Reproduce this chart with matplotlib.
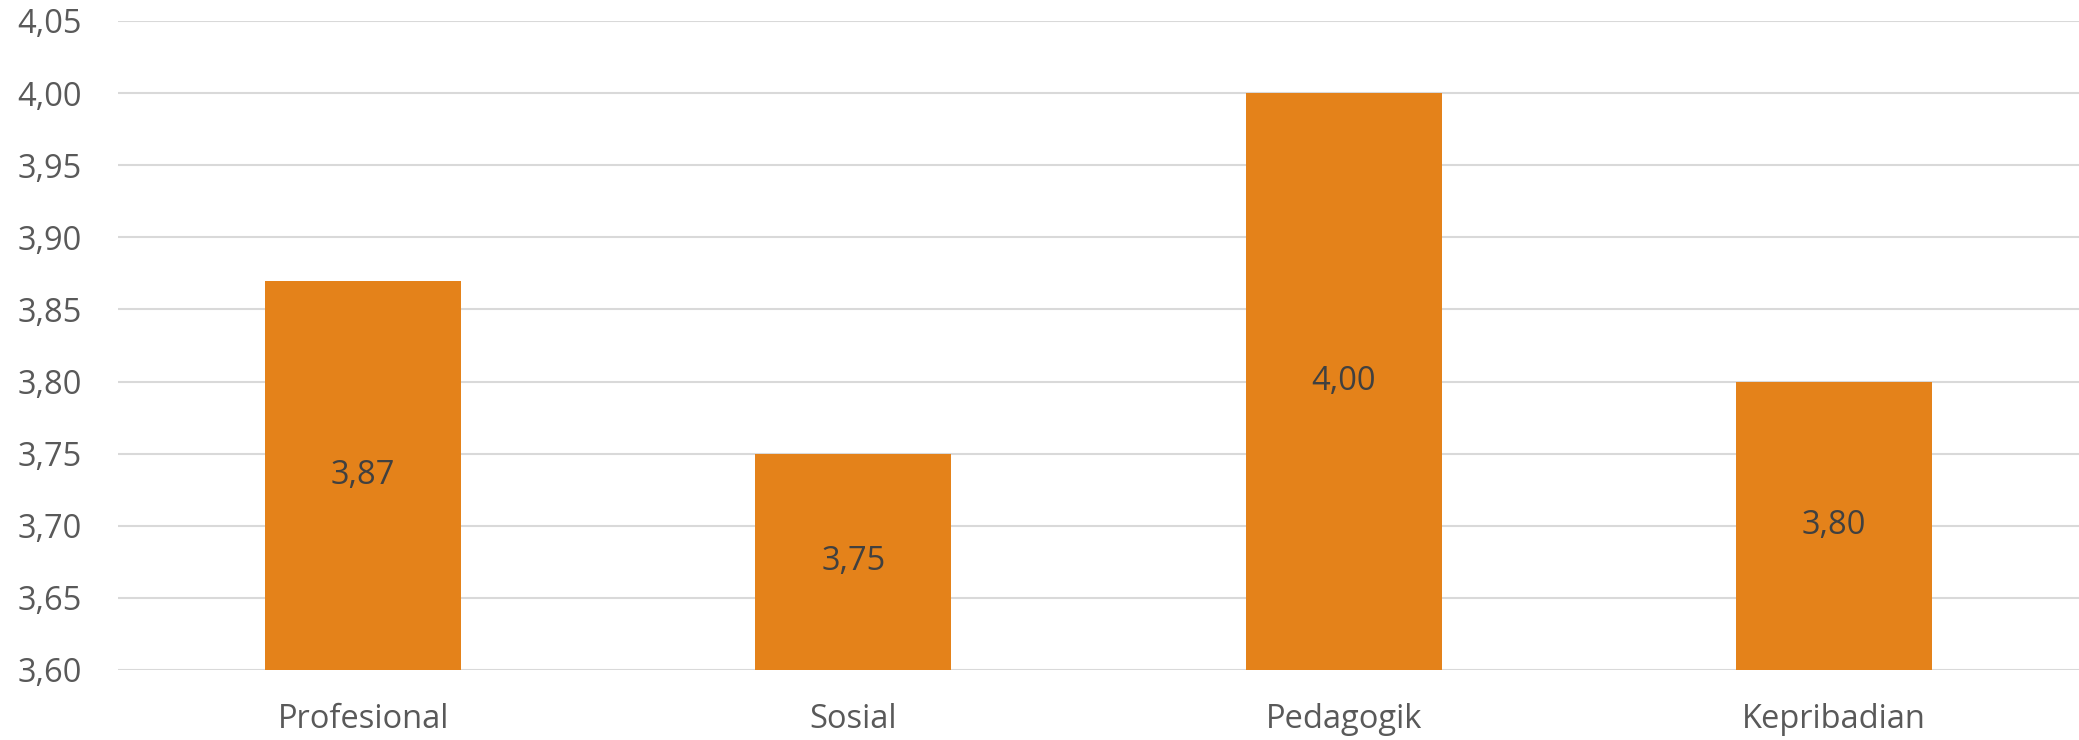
import matplotlib
matplotlib.use("Agg")
import matplotlib.pyplot as plt
from matplotlib.ticker import MultipleLocator, FuncFormatter

categories = ["Profesional", "Sosial", "Pedagogik", "Kepribadian"]
values = [3.87, 3.75, 4.00, 3.80]
y_min, y_max, y_step = 3.60, 4.05, 0.05

plt.rcParams['font.family'] = ['Open Sans', 'DejaVu Sans']

fig = plt.figure(figsize=(20.79, 7.40), dpi=100)
ax = fig.add_axes([118/2079, 1-670/740, 1-118/2079, (670-21)/740])

x = range(len(categories))
bars = ax.bar(x, [v - y_min for v in values], bottom=y_min, width=0.4,
              color="#E4821A", zorder=3)

for xi, v in zip(x, values):
    ax.text(xi, (y_min + v) / 2, f"{v:.2f}".replace(".", ","),
            ha="center", va="center", fontsize=23.5, color="#404040", zorder=4)

ax.set_xlim(-0.5, len(categories) - 0.5)
ax.set_ylim(y_min, y_max)
ax.yaxis.set_major_locator(MultipleLocator(y_step))
ax.yaxis.set_major_formatter(FuncFormatter(lambda v, p: f"{v:.2f}".replace(".", ",")))
ax.set_xticks(list(x))
ax.set_xticklabels(categories)

ax.grid(axis="y", color="#D9D9D9", linewidth=1.5, zorder=0)
ax.set_axisbelow(True)
for s in ax.spines.values():
    s.set_visible(False)
ax.tick_params(axis="both", length=0, labelsize=23.5, labelcolor="#595959")
ax.tick_params(axis="y", pad=26)
ax.tick_params(axis="x", pad=24)

fig.savefig("out.png", dpi=100, facecolor="white")
